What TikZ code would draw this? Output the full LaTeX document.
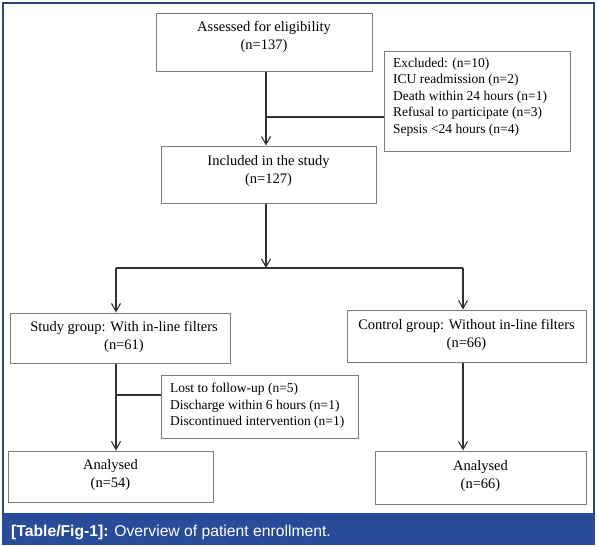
\documentclass[tikz,border=0pt]{standalone}
\usepackage{fontspec}
\setmainfont{Liberation Serif}
\newfontfamily\capfont{Liberation Sans}
\usetikzlibrary{arrows.meta}
\definecolor{bandblue}{RGB}{40,76,152}
\definecolor{framenavy}{RGB}{44,70,112}
\definecolor{boxgrey}{RGB}{125,125,125}
\definecolor{linegrey}{RGB}{50,50,50}
\tikzset{
  boxshape/.style={draw=boxgrey, line width=1pt, inner sep=0pt},
  maintxt/.style={align=center, inner sep=0pt, font=\fontsize{14.5}{18}\selectfont},
  sidetxt/.style={align=left, inner sep=0pt, anchor=west, font=\fontsize{13.5}{16.4}\selectfont},
  conn/.style={draw=linegrey, line width=1.1pt},
  arr/.style={conn, -{Straight Barb[length=8pt,width=9pt,line width=1.1pt]}},
}
\begin{document}
\begin{tikzpicture}[x=1pt,y=-1pt]
\useasboundingbox (0,0) rectangle (598,546);
\fill[white] (0,0) rectangle (598,546);
% caption band and frame
\fill[bandblue] (2,513) rectangle (595,545);
\draw[framenavy, line width=1.2pt] (3,513) -- (3,3) -- (594,3) -- (594,513);
\node[anchor=base west, inner sep=0pt, text=white, font=\capfont\fontsize{15.7}{18}\selectfont] (cap) at (11,536.5)
  {\textbf{[Table/Fig-1]:} Overview of patient enrollment.};

% boxes
\node[boxshape, minimum width=216pt, minimum height=58pt] (assess) at (264,42) {};
\node[maintxt] (assesst) at (264,37) {Assessed for eligibility\\(n=137)};

\node[boxshape, minimum width=186pt, minimum height=100pt] (excl) at (477,101) {};
\node[sidetxt] (exclt) at (393,97) {Excluded: (n=10)\\ICU readmission (n=2)\\Death within 24 hours (n=1)\\Refusal to participate (n=3)\\Sepsis <24 hours (n=4)};

\node[boxshape, minimum width=215pt, minimum height=57pt] (inc) at (268.5,174.5) {};
\node[maintxt] (inct) at (268.5,171) {Included in the study\\(n=127)};

\node[boxshape, minimum width=220pt, minimum height=50pt] (study) at (120,338) {};
\node[maintxt] (studyt) at (124,337) {Study group: With in-line filters\\(n=61)};

\node[boxshape, minimum width=239pt, minimum height=52pt] (ctrl) at (466.5,336) {};
\node[maintxt] (ctrlt) at (466.5,335) {Control group: Without in-line filters\\(n=66)};

\node[boxshape, minimum width=197pt, minimum height=63pt] (lost) at (259.5,406.5) {};
\node[sidetxt] (lostt) at (170,406) {Lost to follow-up (n=5)\\Discharge within 6 hours (n=1)\\Discontinued intervention (n=1)};

\node[boxshape, minimum width=205pt, minimum height=51pt] (an1) at (110.5,476.5) {};
\node[maintxt] (an1t) at (110.5,475) {Analysed\\(n=54)};

\node[boxshape, minimum width=211pt, minimum height=53pt] (an2) at (480.5,477.5) {};
\node[maintxt] (an2t) at (480.5,476) {Analysed\\(n=66)};

% connectors
\coordinate (cx) at (266,0);
\coordinate (j1) at (266,117);
\coordinate (br) at (266,268);
\coordinate (bl) at (116,268);
\coordinate (bri) at (463,268);
\coordinate (j2) at (116,395);

\draw[arr] (assess.south -| cx) -- (inc.north -| cx);
\draw[conn] (j1) -- (j1 -| excl.west);
\draw[arr] (inc.south -| cx) -- (br);
\draw[conn] (bl) -- (bri);
\draw[arr] (bl) -- (study.north -| bl);
\draw[arr] (bri) -- (ctrl.north -| bri);
\draw[arr] (study.south -| bl) -- (an1.north -| bl);
\draw[conn] (j2) -- (j2 -| lost.west);
\draw[arr] (ctrl.south -| bri) -- (an2.north -| bri);
\end{tikzpicture}
\end{document}
